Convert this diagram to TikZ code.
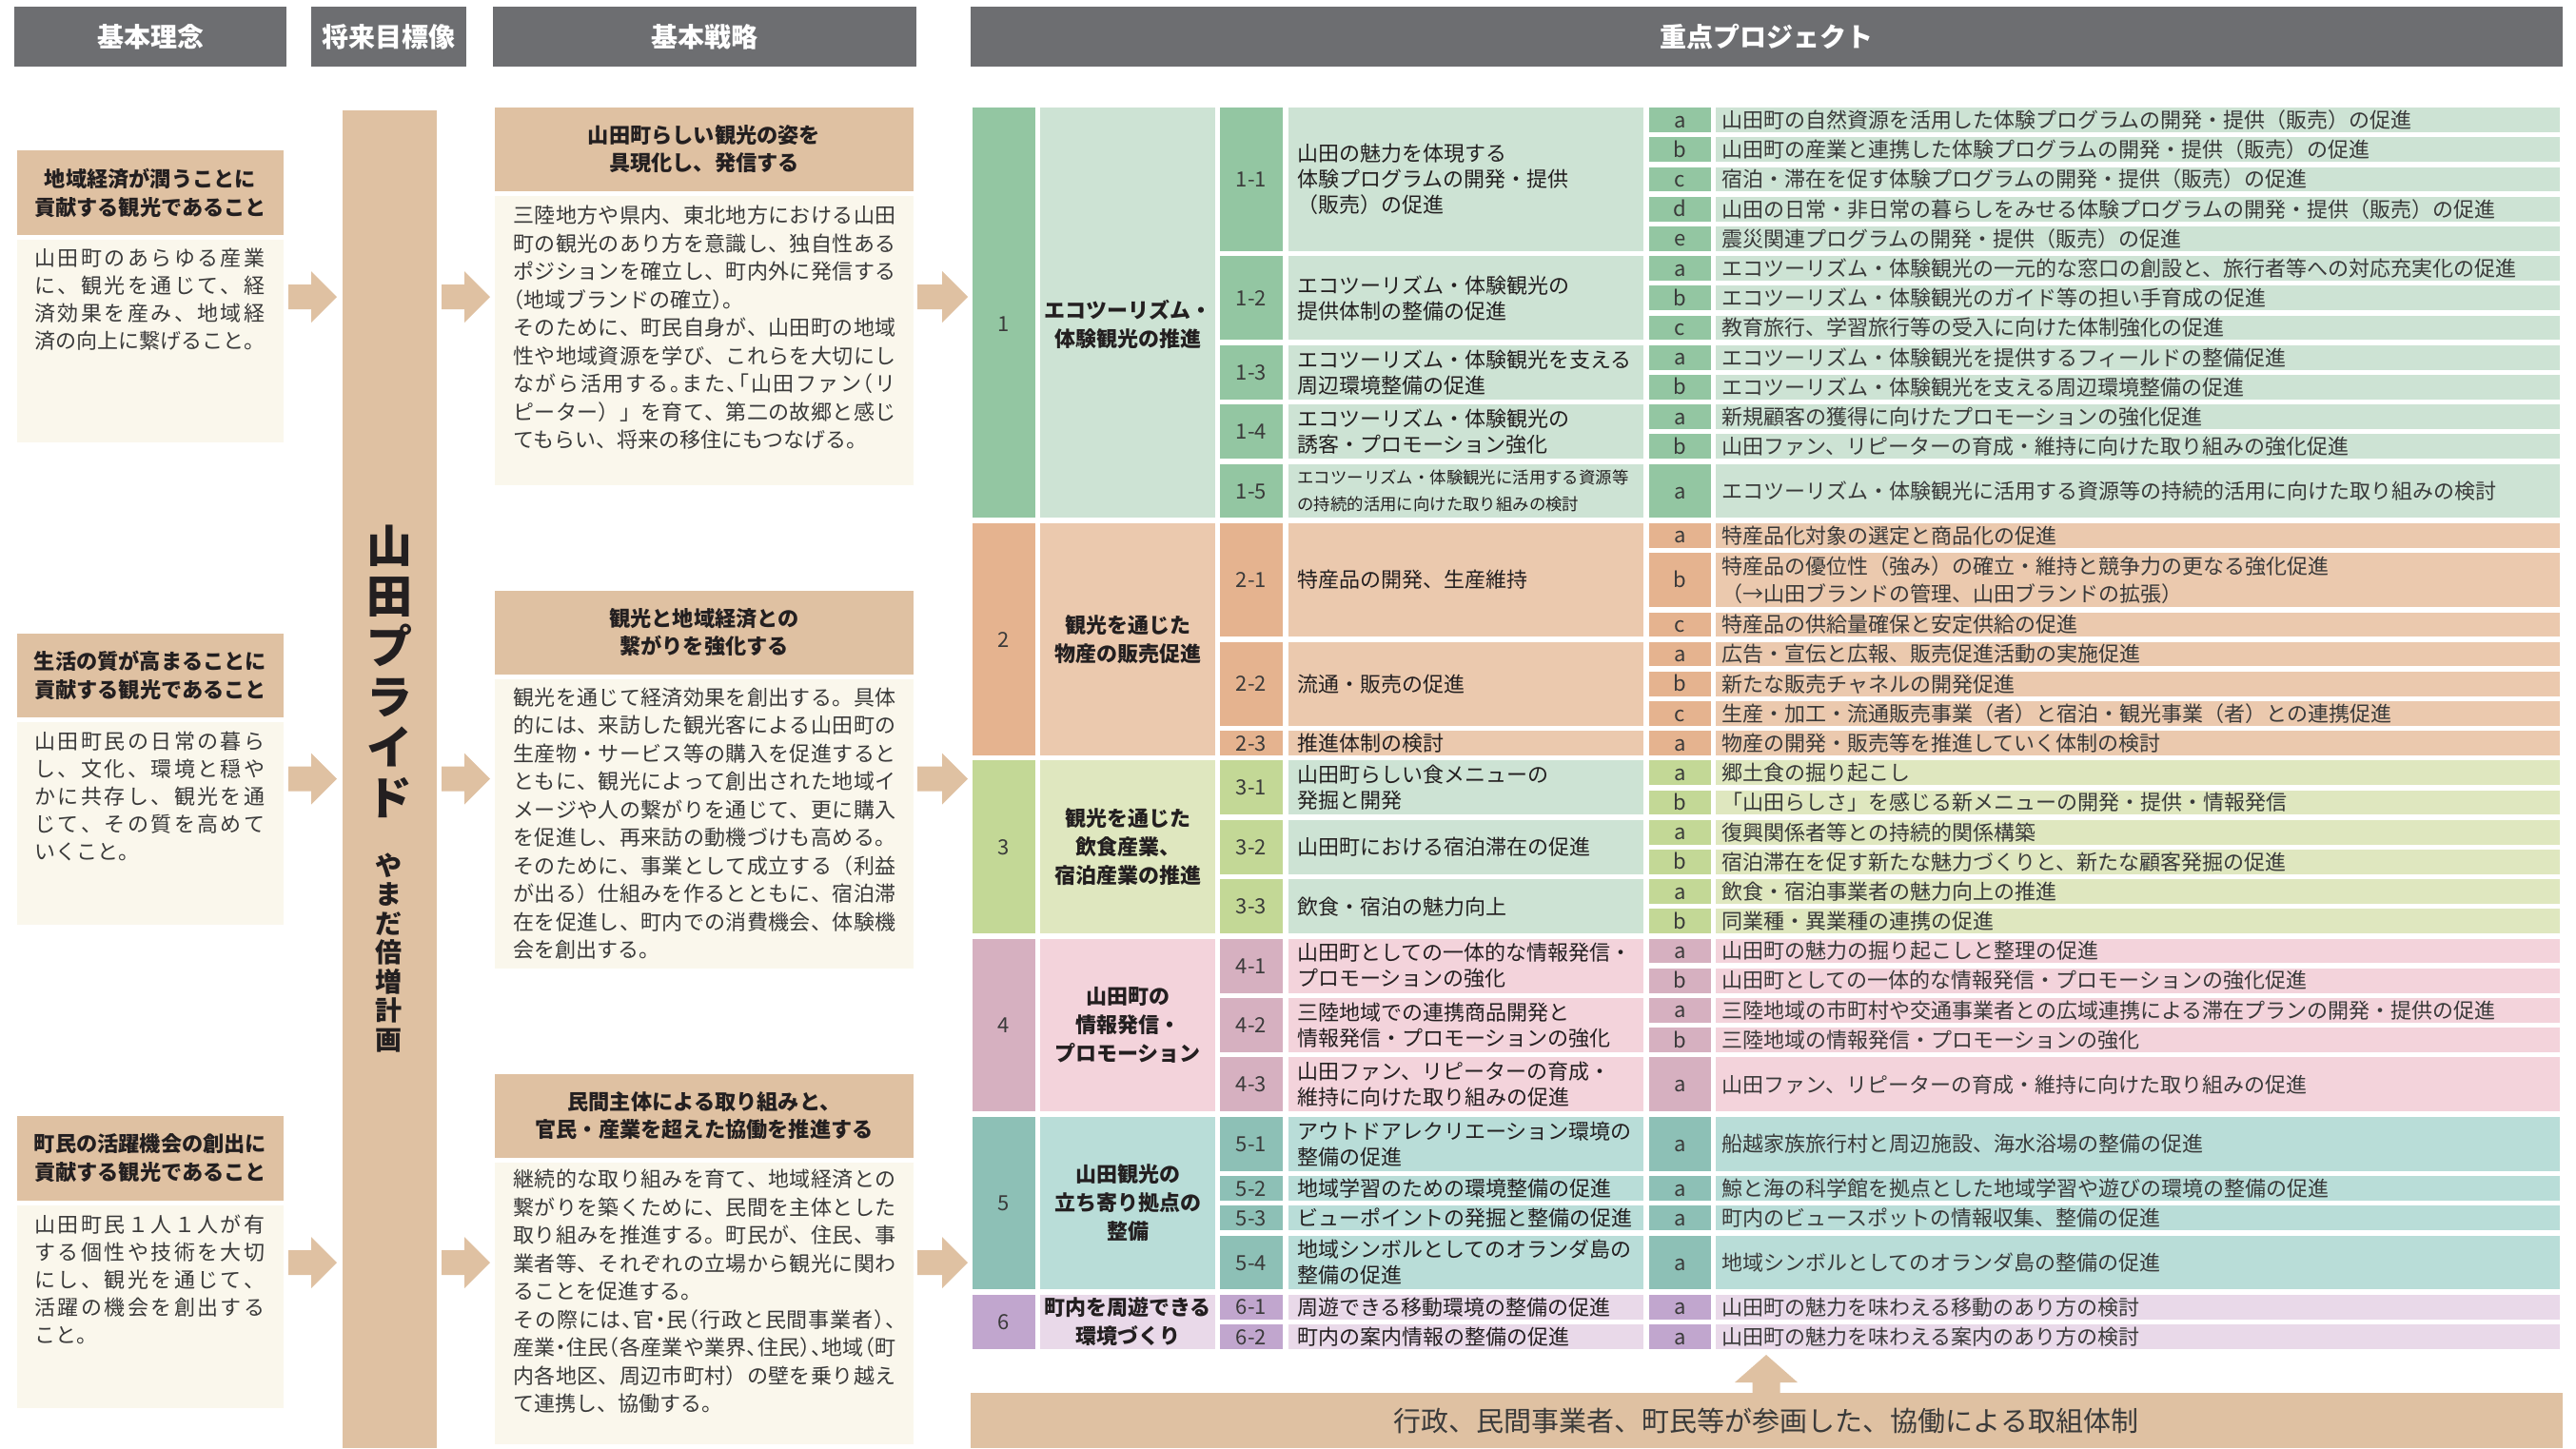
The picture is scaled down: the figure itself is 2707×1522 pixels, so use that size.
\documentclass[tikz,border=0pt]{standalone}
\usepackage{fontspec}
\setmainfont{Noto Sans CJK JP}
\definecolor{hgray}{HTML}{6D6E71}
\definecolor{tanc}{HTML}{DFC1A2}
\definecolor{cream}{HTML}{FAF7EC}
\definecolor{txt}{HTML}{231F20}
\definecolor{txtb}{HTML}{3A3A3A}
\definecolor{c1d}{HTML}{93C6A2}\definecolor{c1l}{HTML}{CDE3D4}
\definecolor{c2d}{HTML}{E5B38F}\definecolor{c2l}{HTML}{EBC9AE}
\definecolor{c3d}{HTML}{C3D896}\definecolor{c3l}{HTML}{DFE7BF}
\definecolor{c4d}{HTML}{D6B0C0}\definecolor{c4l}{HTML}{F3D3DB}
\definecolor{c5d}{HTML}{8DC0B6}\definecolor{c5l}{HTML}{B9DDD8}
\definecolor{c6d}{HTML}{C1A6CE}\definecolor{c6l}{HTML}{E9D9E9}
\makeatletter
\let\sp@end\relax
\newcommand\jline[2]{\hbox to #1{\sp@first#2\sp@end}}
\def\sp@first#1{#1\sp@next}
\def\sp@next#1{\ifx#1\sp@end\else\hfil#1\expandafter\sp@next\fi}
\makeatother
\newcommand\hw[1]{{\addfontfeature{RawFeature=+halt}#1}}
\newcommand\Ycalc[2]{%
  \pgfmathsetmacro\yt{113.3+(#1)*31.19}%
  \pgfmathsetmacro\yb{113.3+(#1+#2)*31.19-5.5}%
  \pgfmathsetmacro\ym{(\yt+\yb)/2}}
\newcommand\GroupCell[7]{%
  \Ycalc{#2}{#3}%
  \fill[c#4d] (1022,\yt) rectangle (1088,\yb);
  \fill[c#4l] (1093,\yt) rectangle (1277,\yb);
  \node[numtxt] (#1n) at (1055,\ym+#7) {#5};
  \node[grptxt] (#1) at (1185,\ym+#7) {#6};}
\newcommand\SubCell[7]{%
  \Ycalc{#2}{#3}%
  \fill[#4] (1282,\yt) rectangle (1348,\yb);
  \fill[#5] (1354,\yt) rectangle (1727,\yb);
  \node[numtxt] (#1n) at (1315,\ym) {#6};
  \node[subtxt] (#1) at (1363,\ym) {#7};}
\newcommand\ItemCell[6]{%
  \Ycalc{#2}{#3}%
  \fill[c#4d] (1733,\yt) rectangle (1798,\yb);
  \fill[c#4l] (1803,\yt) rectangle (2690,\yb);
  \node[numtxt] (#1l) at (1765.5,\ym) {#5};
  \node[itemtxt] (#1) at (1809,\ym) {#6};}
\newcommand\RArr[4]{%
  \fill[tanc] (#1,#4-13) -- (#2,#4-13) -- (#2,#4-27) -- (#3,#4) -- (#2,#4+27) -- (#2,#4+13) -- (#1,#4+13) -- cycle;}
\tikzset{
  hdr/.style={font=\fontsize{14}{16}\selectfont\bfseries, text=white, inner sep=0},
  lhdr/.style={font=\fontsize{11.1}{15}\selectfont\bfseries, text=txt, align=center, inner sep=0},
  lbody/.style={font=\fontsize{11}{14.5}\selectfont, text=txtb, align=left, inner sep=0, anchor=north west},
  shdr/.style={font=\fontsize{11.1}{14.5}\selectfont\bfseries, text=txt, align=center, inner sep=0},
  sbody/.style={font=\fontsize{11}{14.75}\selectfont, text=txtb, align=left, inner sep=0, anchor=north west},
  numtxt/.style={font=\fontsize{11}{13}\selectfont, text=txtb, inner sep=0, text height=9.35pt, text depth=1.3pt},
  grptxt/.style={font=\fontsize{11}{15}\selectfont\bfseries, text=txt, align=center, inner sep=0},
  subtxt/.style={font=\fontsize{11}{13.5}\selectfont, text=txt, align=left, inner sep=0, anchor=west},
  itemtxt/.style={font=\fontsize{11}{14.5}\selectfont, text=txtb, align=left, inner sep=0, anchor=west}
}
\begin{document}
\begin{tikzpicture}[x=0.5pt,y=-0.5pt]
\useasboundingbox (0,0) rectangle (2707,1522);
\fill[white] (0,0) rectangle (2707,1522);
% headers
\fill[hgray] (15,7) rectangle (301,70);
\node[hdr] (h1) at (158,38.5) {基本理念};
\fill[hgray] (327,7) rectangle (490,70);
\node[hdr] (h2) at (408.5,38.5) {将来目標像};
\fill[hgray] (518,7) rectangle (963,70);
\node[hdr] (h3) at (740.5,38.5) {基本戦略};
\fill[hgray] (1020,7) rectangle (2693,70);
\node[hdr] (h4) at (1856,38.5) {重点プロジェクト};
% basic ideas
\fill[tanc] (18,158) rectangle (298,247);
\node[lhdr] (p1h) at (158,202.5) {地域経済が潤うことに\\貢献する観光であること};
\fill[cream] (18,252) rectangle (298,465);
\node[lbody] (p1b) at (36,261) {\jline{121pt}{山田町のあらゆる産業}\\\jline{121pt}{に、観光を通じて、経}\\\jline{121pt}{済効果を産み、地域経}\\済の向上に繋げること。};
\fill[tanc] (18,665.7) rectangle (298,754.3);
\node[lhdr] (p2h) at (158,710) {生活の質が高まることに\\貢献する観光であること};
\fill[cream] (18,759) rectangle (298,972);
\node[lbody] (p2b) at (36,769) {\jline{121pt}{山田町民の日常の暮ら}\\\jline{121pt}{し、文化、環境と穏や}\\\jline{121pt}{かに共存し、観光を通}\\\jline{121pt}{じて、その質を高めて}\\いくこと。};
\fill[tanc] (18,1173) rectangle (298,1262);
\node[lhdr] (p3h) at (158,1217.5) {町民の活躍機会の創出に\\貢献する観光であること};
\fill[cream] (18,1267) rectangle (298,1480);
\node[lbody] (p3b) at (36,1276) {\jline{121pt}{山田町民１人１人が有}\\\jline{121pt}{する個性や技術を大切}\\\jline{121pt}{にし、観光を通じて、}\\\jline{121pt}{活躍の機会を創出する}\\こと。};
% future image bar
\fill[tanc] (360,115.7) rectangle (459,1522);
\node[font=\fontsize{24}{26.5}\selectfont\bfseries, text=txt, align=center, inner sep=0] (pride) at (409.5,706) {山\\田\\プ\\ラ\\イ\\ド};
\node[font=\fontsize{14}{15.25}\selectfont\bfseries, text=txt, align=center, inner sep=0] (plan) at (408.5,1001) {や\\ま\\だ\\倍\\増\\計\\画};
% strategies
\fill[tanc] (520,112.7) rectangle (960,201);
\node[shdr] (st1h) at (740,157) {山田町らしい観光の姿を\\具現化し、発信する};
\fill[cream] (520,206) rectangle (960,510);
\node[sbody] (st1b) at (539,216) {\jline{201pt}{三陸地方や県内、東北地方における山田}\\\jline{201pt}{町の観光のあり方を意識し、独自性ある}\\\jline{201pt}{ポジションを確立し、町内外に発信する}\\\hw{（地域ブランドの確立）。}\\\jline{201pt}{そのために、町民自身が、山田町の地域}\\\jline{201pt}{性や地域資源を学び、これらを大切にし}\\\hw{\jline{201pt}{ながら活用する。また、「山田ファン（リ}}\\\jline{201pt}{ピーター）」を育て、第二の故郷と感じ}\\てもらい、将来の移住にもつなげる。};
\fill[tanc] (520,621) rectangle (960,708.7);
\node[shdr] (st2h) at (740,665) {観光と地域経済との\\繋がりを強化する};
\fill[cream] (520,714) rectangle (960,1018);
\node[sbody] (st2b) at (539,722.5) {\jline{201pt}{観光を通じて経済効果を創出する。具体}\\\jline{201pt}{的には、来訪した観光客による山田町の}\\\jline{201pt}{生産物・サービス等の購入を促進すると}\\\jline{201pt}{ともに、観光によって創出された地域イ}\\\jline{201pt}{メージや人の繋がりを通じて、更に購入}\\\jline{201pt}{を促進し、再来訪の動機づけも高める。}\\\jline{201pt}{そのために、事業として成立する（利益}\\\jline{201pt}{が出る）仕組みを作るとともに、宿泊滞}\\\jline{201pt}{在を促進し、町内での消費機会、体験機}\\会を創出する。};
\fill[tanc] (520,1129) rectangle (960,1217);
\node[shdr] (st3h) at (740,1173) {民間主体による取り組みと、\\官民・産業を超えた協働を推進する};
\fill[cream] (520,1222) rectangle (960,1518);
\node[sbody] (st3b) at (539,1229) {\jline{201pt}{継続的な取り組みを育て、地域経済との}\\\jline{201pt}{繋がりを築くために、民間を主体とした}\\\jline{201pt}{取り組みを推進する。町民が、住民、事}\\\jline{201pt}{業者等、それぞれの立場から観光に関わ}\\ることを促進する。\\\hw{\jline{201pt}{その際には、官・民（行政と民間事業者）、}}\\\hw{\jline{201pt}{産業・住民（各産業や業界、住民）、地域（町}}\\\jline{201pt}{内各地区、周辺市町村）の壁を乗り越え}\\て連携し、協働する。};
% arrows
\RArr{303}{327}{354}{312}
\RArr{464}{488}{515}{312}
\RArr{964}{990}{1017}{312}
\RArr{303}{327}{354}{818.7}
\RArr{464}{488}{515}{818.7}
\RArr{964}{990}{1017}{818.7}
\RArr{303}{327}{354}{1327}
\RArr{464}{488}{515}{1327}
\RArr{964}{990}{1017}{1327}
% ---- projects table
\GroupCell{g1}{0}{14}{1}{1}{エコツーリズム・\\体験観光の推進}{12}
\SubCell{s11}{0}{5}{c1d}{c1l}{1-1}{山田の魅力を体現する\\体験プログラムの開発・提供\\（販売）の促進}
\ItemCell{i11a}{0}{1}{1}{a}{山田町の自然資源を活用した体験プログラムの開発・提供（販売）の促進}
\ItemCell{i11b}{1}{1}{1}{b}{山田町の産業と連携した体験プログラムの開発・提供（販売）の促進}
\ItemCell{i11c}{2}{1}{1}{c}{宿泊・滞在を促す体験プログラムの開発・提供（販売）の促進}
\ItemCell{i11d}{3}{1}{1}{d}{山田の日常・非日常の暮らしをみせる体験プログラムの開発・提供（販売）の促進}
\ItemCell{i11e}{4}{1}{1}{e}{震災関連プログラムの開発・提供（販売）の促進}
\SubCell{s12}{5}{3}{c1d}{c1l}{1-2}{エコツーリズム・体験観光の\\提供体制の整備の促進}
\ItemCell{i12a}{5}{1}{1}{a}{エコツーリズム・体験観光の一元的な窓口の創設と、旅行者等への対応充実化の促進}
\ItemCell{i12b}{6}{1}{1}{b}{エコツーリズム・体験観光のガイド等の担い手育成の促進}
\ItemCell{i12c}{7}{1}{1}{c}{教育旅行、学習旅行等の受入に向けた体制強化の促進}
\SubCell{s13}{8}{2}{c1d}{c1l}{1-3}{エコツーリズム・体験観光を支える\\周辺環境整備の促進}
\ItemCell{i13a}{8}{1}{1}{a}{エコツーリズム・体験観光を提供するフィールドの整備促進}
\ItemCell{i13b}{9}{1}{1}{b}{エコツーリズム・体験観光を支える周辺環境整備の促進}
\SubCell{s14}{10}{2}{c1d}{c1l}{1-4}{エコツーリズム・体験観光の\\誘客・プロモーション強化}
\ItemCell{i14a}{10}{1}{1}{a}{新規顧客の獲得に向けたプロモーションの強化促進}
\ItemCell{i14b}{11}{1}{1}{b}{山田ファン、リピーターの育成・維持に向けた取り組みの強化促進}
\Ycalc{12}{2}
\fill[c1d] (1282,\yt) rectangle (1348,\yb);
\fill[c1l] (1354,\yt) rectangle (1727,\yb);
\node[numtxt] (s15n) at (1315,\ym) {1-5};
\node[subtxt, font=\fontsize{8.7}{14}\selectfont] (s15) at (1363,\ym) {エコツーリズム・体験観光に活用する資源等\\の持続的活用に向けた取り組みの検討};
\ItemCell{i15a}{12}{2}{1}{a}{エコツーリズム・体験観光に活用する資源等の持続的活用に向けた取り組みの検討}
%
\GroupCell{g2}{14}{8}{2}{2}{観光を通じた\\物産の販売促進}{0}
\SubCell{s21}{14}{4}{c2d}{c2l}{2-1}{特産品の開発、生産維持}
\ItemCell{i21a}{14}{1}{2}{a}{特産品化対象の選定と商品化の促進}
\ItemCell{i21b}{15}{2}{2}{b}{特産品の優位性（強み）の確立・維持と競争力の更なる強化促進\\（→山田ブランドの管理、山田ブランドの拡張）}
\ItemCell{i21c}{17}{1}{2}{c}{特産品の供給量確保と安定供給の促進}
\SubCell{s22}{18}{3}{c2d}{c2l}{2-2}{流通・販売の促進}
\ItemCell{i22a}{18}{1}{2}{a}{広告・宣伝と広報、販売促進活動の実施促進}
\ItemCell{i22b}{19}{1}{2}{b}{新たな販売チャネルの開発促進}
\ItemCell{i22c}{20}{1}{2}{c}{生産・加工・流通販売事業（者）と宿泊・観光事業（者）との連携促進}
\SubCell{s23}{21}{1}{c2d}{c2l}{2-3}{推進体制の検討}
\ItemCell{i23a}{21}{1}{2}{a}{物産の開発・販売等を推進していく体制の検討}
%
\GroupCell{g3}{22}{6}{3}{3}{観光を通じた\\飲食産業、\\宿泊産業の推進}{0}
\SubCell{s31}{22}{2}{c3d}{c1l}{3-1}{山田町らしい食メニューの\\発掘と開発}
\ItemCell{i31a}{22}{1}{3}{a}{郷土食の掘り起こし}
\ItemCell{i31b}{23}{1}{3}{b}{「山田らしさ」を感じる新メニューの開発・提供・情報発信}
\SubCell{s32}{24}{2}{c3d}{c1l}{3-2}{山田町における宿泊滞在の促進}
\ItemCell{i32a}{24}{1}{3}{a}{復興関係者等との持続的関係構築}
\ItemCell{i32b}{25}{1}{3}{b}{宿泊滞在を促す新たな魅力づくりと、新たな顧客発掘の促進}
\SubCell{s33}{26}{2}{c3d}{c1l}{3-3}{飲食・宿泊の魅力向上}
\ItemCell{i33a}{26}{1}{3}{a}{飲食・宿泊事業者の魅力向上の推進}
\ItemCell{i33b}{27}{1}{3}{b}{同業種・異業種の連携の促進}
%
\GroupCell{g4}{28}{6}{4}{4}{山田町の\\情報発信・\\プロモーション}{0}
\SubCell{s41}{28}{2}{c4d}{c4l}{4-1}{山田町としての一体的な情報発信・\\プロモーションの強化}
\ItemCell{i41a}{28}{1}{4}{a}{山田町の魅力の掘り起こしと整理の促進}
\ItemCell{i41b}{29}{1}{4}{b}{山田町としての一体的な情報発信・プロモーションの強化促進}
\SubCell{s42}{30}{2}{c4d}{c4l}{4-2}{三陸地域での連携商品開発と\\情報発信・プロモーションの強化}
\ItemCell{i42a}{30}{1}{4}{a}{三陸地域の市町村や交通事業者との広域連携による滞在プランの開発・提供の促進}
\ItemCell{i42b}{31}{1}{4}{b}{三陸地域の情報発信・プロモーションの強化}
\SubCell{s43}{32}{2}{c4d}{c4l}{4-3}{山田ファン、リピーターの育成・\\維持に向けた取り組みの促進}
\ItemCell{i43a}{32}{2}{4}{a}{山田ファン、リピーターの育成・維持に向けた取り組みの促進}
%
\GroupCell{g5}{34}{6}{5}{5}{山田観光の\\立ち寄り拠点の\\整備}{0}
\SubCell{s51}{34}{2}{c5d}{c5l}{5-1}{アウトドアレクリエーション環境の\\整備の促進}
\ItemCell{i51a}{34}{2}{5}{a}{船越家族旅行村と周辺施設、海水浴場の整備の促進}
\SubCell{s52}{36}{1}{c5d}{c5l}{5-2}{地域学習のための環境整備の促進}
\ItemCell{i52a}{36}{1}{5}{a}{鯨と海の科学館を拠点とした地域学習や遊びの環境の整備の促進}
\SubCell{s53}{37}{1}{c5d}{c5l}{5-3}{ビューポイントの発掘と整備の促進}
\ItemCell{i53a}{37}{1}{5}{a}{町内のビュースポットの情報収集、整備の促進}
\SubCell{s54}{38}{2}{c5d}{c5l}{5-4}{地域シンボルとしてのオランダ島の\\整備の促進}
\ItemCell{i54a}{38}{2}{5}{a}{地域シンボルとしてのオランダ島の整備の促進}
%
\GroupCell{g6}{40}{2}{6}{6}{町内を周遊できる\\環境づくり}{0}
\SubCell{s61}{40}{1}{c6d}{c6l}{6-1}{周遊できる移動環境の整備の促進}
\ItemCell{i61a}{40}{1}{6}{a}{山田町の魅力を味わえる移動のあり方の検討}
\SubCell{s62}{41}{1}{c6d}{c6l}{6-2}{町内の案内情報の整備の促進}
\ItemCell{i62a}{41}{1}{6}{a}{山田町の魅力を味わえる案内のあり方の検討}
% bottom
\fill[tanc] (1841.5,1466) -- (1841.5,1453) -- (1823,1453) -- (1856,1424) -- (1889,1453) -- (1870.5,1453) -- (1870.5,1466) -- cycle;
\fill[tanc] (1020,1464) rectangle (2693,1522);
\node[font=\fontsize{14.5}{16}\selectfont, text=txtb, inner sep=0] (base) at (1856,1493) {行政、民間事業者、町民等が参画した、協働による取組体制};
\end{tikzpicture}
\end{document}
